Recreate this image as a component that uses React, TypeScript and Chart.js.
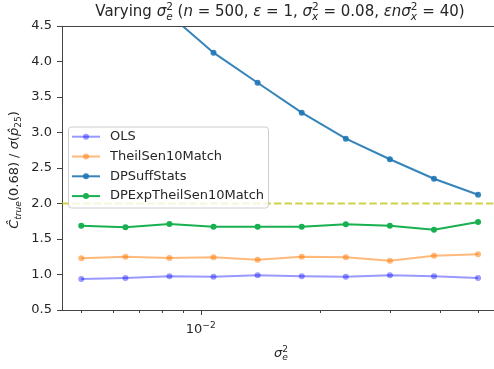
import React, { useEffect, useRef } from 'react';
import { Chart, registerables } from 'chart.js';

Chart.register(...registerables);

// ---- data ----
const seriesNames = ['OLS', 'TheilSen10Match', 'DPSuffStats', 'DPExpTheilSen10Match'];
const xValues = [0.005, 0.00646, 0.00834, 0.01077, 0.01391, 0.01797, 0.02321, 0.02997, 0.03871, 0.05];
const olsValues = [0.937, 0.951, 0.975, 0.969, 0.989, 0.975, 0.969, 0.989, 0.975, 0.951];
const theilSenValues = [1.228, 1.251, 1.232, 1.242, 1.208, 1.251, 1.242, 1.194, 1.265, 1.285];
const dpSuffStatsValues = [5.95, 5.25, 4.66, 4.124, 3.701, 3.279, 2.913, 2.623, 2.349, 2.124];
const dpExpValues = [1.687, 1.665, 1.711, 1.673, 1.673, 1.673, 1.707, 1.687, 1.631, 1.739];
const referenceLevel = 2.0;
const xMajorTicks = [0.01];
const xMinorTicks = [0.005, 0.006, 0.007, 0.008, 0.009, 0.02, 0.03, 0.04, 0.05];
const xLimits = [0.004471, 0.05484];
const xFullRight = 0.0561;
const yLimits = [0.5, 4.5];
const yStep = 0.5;

const seriesColors = [
  'rgba(0,0,255,0.4)',
  'rgba(255,127,14,0.55)',
  'rgba(31,119,180,0.9)',
  'rgba(24,176,80,1)',
];
const refColor = 'rgba(191,191,0,0.72)';

const FAM = "'DejaVu Sans'";
const TEXT = '#262626';
const SPINE = '#444';

type Seg = { t: string; it?: boolean; s?: number; dy?: number; hold?: boolean };

function layoutRich(ctx: CanvasRenderingContext2D, segs: Seg[], size: number) {
  let x = 0;
  let held: number | null = null;
  const items: { t: string; x: number; font: string; dy: number }[] = [];
  for (const sg of segs) {
    const fs = size * (sg.s ?? 1);
    const font = `${sg.it ? 'italic ' : ''}${fs}px ${FAM}`;
    ctx.font = font;
    const w = ctx.measureText(sg.t).width;
    items.push({ t: sg.t, x, font, dy: (sg.dy ?? 0) * size });
    let end = x + w;
    if (held !== null) {
      end = Math.max(end, held);
      held = null;
    }
    if (sg.hold) held = end;
    else x = end;
  }
  return { items, width: x };
}

function drawRich(ctx: CanvasRenderingContext2D, segs: Seg[], size: number, cx: number, baseY: number) {
  const { items, width } = layoutRich(ctx, segs, size);
  const x0 = cx - width / 2;
  ctx.textAlign = 'left';
  ctx.textBaseline = 'alphabetic';
  for (const it of items) {
    ctx.font = it.font;
    ctx.fillText(it.t, x0 + it.x, baseY + it.dy);
  }
}

const SUP = -0.42;
const SUB = 0.25;

const titleSegs: Seg[] = [
  { t: 'Varying ' },
  { t: 'σ', it: true },
  { t: '2', s: 0.7, dy: SUP, hold: true },
  { t: 'e', it: true, s: 0.7, dy: SUB },
  { t: ' (' },
  { t: 'n', it: true },
  { t: ' = 500, ' },
  { t: 'ε', it: true },
  { t: ' = 1, ' },
  { t: 'σ', it: true },
  { t: '2', s: 0.7, dy: SUP, hold: true },
  { t: 'x', it: true, s: 0.7, dy: SUB },
  { t: ' = 0.08, ' },
  { t: 'ε', it: true },
  { t: 'n', it: true },
  { t: 'σ', it: true },
  { t: '2', s: 0.7, dy: SUP, hold: true },
  { t: 'x', it: true, s: 0.7, dy: SUB },
  { t: ' = 40)' },
];

const yLabelSegs: Seg[] = [
  { t: 'Ĉ', it: true },
  { t: 'true', it: true, s: 0.7, dy: SUB },
  { t: '(0.68) / ' },
  { t: 'σ', it: true },
  { t: '(' },
  { t: 'p̂', it: true },
  { t: '25', s: 0.7, dy: SUB },
  { t: ')' },
];

const xLabelSegs: Seg[] = [
  { t: 'σ', it: true },
  { t: '2', s: 0.7, dy: SUP, hold: true },
  { t: 'e', it: true, s: 0.7, dy: SUB },
];

const xTickSegs: Seg[] = [{ t: '10' }, { t: '−2', s: 0.7, dy: SUP }];

const decorPlugin = {
  id: 'decor',
  afterDraw(chart: any) {
    const ctx: CanvasRenderingContext2D = chart.ctx;
    const area = chart.chartArea;
    const xs = chart.scales.x;
    ctx.save();

    // top spine
    ctx.strokeStyle = SPINE;
    ctx.lineWidth = 1;
    ctx.beginPath();
    ctx.moveTo(area.left, Math.round(area.top) + 0.5);
    ctx.lineTo(area.right, Math.round(area.top) + 0.5);
    ctx.stroke();

    // x ticks
    const by = Math.round(area.bottom);
    for (const v of xMinorTicks) {
      const px = Math.round(xs.getPixelForValue(v)) + 0.5;
      ctx.beginPath();
      ctx.moveTo(px, by);
      ctx.lineTo(px, by + 3);
      ctx.stroke();
    }
    for (const v of xMajorTicks) {
      const px = Math.round(xs.getPixelForValue(v)) + 0.5;
      ctx.beginPath();
      ctx.moveTo(px, by);
      ctx.lineTo(px, by + 5);
      ctx.stroke();
    }

    ctx.fillStyle = TEXT;
    for (const v of xMajorTicks) {
      drawRich(ctx, xTickSegs, 13, xs.getPixelForValue(v), by + 23);
    }

    // axes centre (the axes run past the right edge of the picture)
    const axisMid = (xs.getPixelForValue(xLimits[0]) + xs.getPixelForValue(xFullRight)) / 2;
    drawRich(ctx, xLabelSegs, 13, axisMid + 1, 357);

    // title
    drawRich(ctx, titleSegs, 15, axisMid, 16);

    // y label (rotated)
    ctx.save();
    ctx.translate(18, (area.top + area.bottom) / 2 + 2);
    ctx.rotate(-Math.PI / 2);
    drawRich(ctx, yLabelSegs, 13, 0, 0);
    ctx.restore();

    // legend
    const lx = 68.5, ly = 127, lw = 200, lh = 81, r = 3;
    ctx.beginPath();
    ctx.moveTo(lx + r, ly);
    ctx.lineTo(lx + lw - r, ly);
    ctx.arcTo(lx + lw, ly, lx + lw, ly + r, r);
    ctx.lineTo(lx + lw, ly + lh - r);
    ctx.arcTo(lx + lw, ly + lh, lx + lw - r, ly + lh, r);
    ctx.lineTo(lx + r, ly + lh);
    ctx.arcTo(lx, ly + lh, lx, ly + lh - r, r);
    ctx.lineTo(lx, ly + r);
    ctx.arcTo(lx, ly, lx + r, ly, r);
    ctx.closePath();
    ctx.fillStyle = 'rgba(255,255,255,0.8)';
    ctx.fill();
    ctx.strokeStyle = '#cccccc';
    ctx.stroke();

    seriesNames.forEach((name, i) => {
      const yy = 136.7 + i * 19.8;
      ctx.strokeStyle = seriesColors[i];
      ctx.lineWidth = 2;
      ctx.beginPath();
      ctx.moveTo(72, yy);
      ctx.lineTo(100, yy);
      ctx.stroke();
      ctx.fillStyle = seriesColors[i];
      ctx.beginPath();
      ctx.arc(86, yy, 3, 0, Math.PI * 2);
      ctx.fill();
      ctx.fillStyle = TEXT;
      ctx.font = `13px ${FAM}`;
      ctx.textAlign = 'left';
      ctx.textBaseline = 'middle';
      ctx.fillText(name, 110, yy);
    });

    ctx.restore();
  },
};

function series(values: number[]) {
  return xValues.map((x, i) => ({ x, y: values[i] }));
}

export default function App() {
  const ref = useRef<HTMLCanvasElement>(null);

  useEffect(() => {
    const canvas = ref.current;
    if (!canvas) return;
    const allSeries = [olsValues, theilSenValues, dpSuffStatsValues, dpExpValues];
    const datasets: any[] = allSeries.map((vals, i) => ({
      label: seriesNames[i],
      data: series(vals),
      borderColor: seriesColors[i],
      backgroundColor: seriesColors[i],
      borderWidth: 2,
      pointRadius: 3,
      pointBorderWidth: 0,
      pointHoverRadius: 3,
      tension: 0,
      fill: false,
    }));
    datasets.push({
      label: 'reference',
      data: [
        { x: xLimits[0], y: referenceLevel },
        { x: xLimits[1], y: referenceLevel },
      ],
      borderColor: refColor,
      borderWidth: 2,
      borderDash: [7.4, 3.2],
      pointRadius: 0,
      fill: false,
    });

    const chart = new Chart(canvas, {
      type: 'line',
      data: { datasets },
      options: {
        animation: false,
        responsive: false,
        devicePixelRatio: 1,
        events: [],
        layout: { autoPadding: false, padding: { top: 26, left: 0, right: 0, bottom: 0 } },
        plugins: {
          legend: { display: false },
          tooltip: { enabled: false },
          title: { display: false },
        },
        scales: {
          x: {
            type: 'logarithmic',
            min: xLimits[0],
            max: xLimits[1],
            grid: { display: false },
            ticks: { display: false },
            border: { display: true, color: SPINE, width: 1 },
            afterFit: (s: any) => {
              s.height = 59;
            },
          },
          y: {
            type: 'linear',
            min: yLimits[0],
            max: yLimits[1],
            ticks: {
              stepSize: yStep,
              padding: 5,
              color: TEXT,
              font: { family: FAM, size: 13 },
              callback: (v: any) => Number(v).toFixed(1),
            },
            grid: {
              display: true,
              drawOnChartArea: false,
              drawTicks: true,
              tickLength: 5,
              tickColor: SPINE,
              tickWidth: 1,
            },
            border: { display: true, color: SPINE, width: 1 },
            afterFit: (s: any) => {
              s.width = 62;
            },
          },
        },
      },
      plugins: [decorPlugin],
    });
    return () => chart.destroy();
  }, []);

  return (
    <div style={{ position: 'absolute', left: 0, top: 0, width: 494, height: 369, background: '#fff' }}>
      <canvas ref={ref} width={494} height={369} style={{ width: 494, height: 369, display: 'block' }} />
    </div>
  );
}
